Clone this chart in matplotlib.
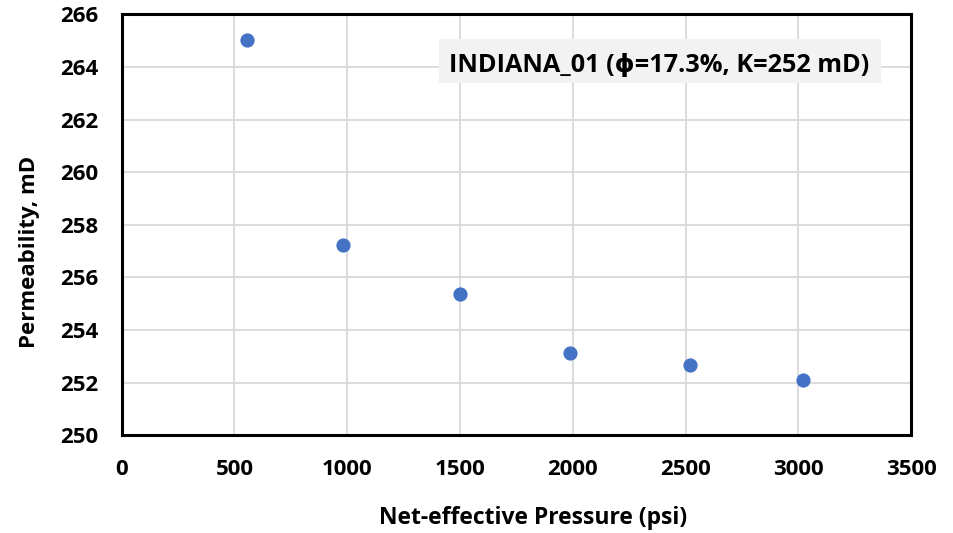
import matplotlib
matplotlib.use("Agg")
import matplotlib.pyplot as plt
from matplotlib.patches import Rectangle

# net-effective pressure (psi) vs measured permeability (mD)
pressure = [556, 981, 1498, 1987, 2520, 3021]
permeability = [265.03, 257.24, 255.38, 253.14, 252.67, 252.10]

x_ticks = [0, 500, 1000, 1500, 2000, 2500, 3000, 3500]
y_ticks = [250, 252, 254, 256, 258, 260, 262, 264, 266]

plt.rcParams['font.family'] = ['Open Sans', 'DejaVu Sans']
plt.rcParams['font.weight'] = 'bold'

fig = plt.figure(figsize=(9.54, 5.33), dpi=100)
ax = fig.add_axes([0.1276, 0.1833, 0.8274, 0.7895])

ax.scatter(pressure, permeability, s=105, color='#4472C4', zorder=3, linewidths=0)

ax.set_xlim(0, 3500)
ax.set_ylim(250, 266)
ax.set_xticks(x_ticks)
ax.set_yticks(y_ticks)
ax.grid(True, color='#d9d9d9', linewidth=1.3)
ax.set_axisbelow(True)
ax.tick_params(axis='x', length=0, labelsize=16, pad=17)
ax.tick_params(axis='y', length=0, labelsize=16, pad=17)
for lbl in ax.get_xticklabels() + ax.get_yticklabels():
    lbl.set_fontweight('bold')
for sp in ax.spines.values():
    sp.set_linewidth(2.2)
    sp.set_color('black')

ax.set_xlabel('Net-effective Pressure (psi)', fontsize=16.5, fontweight='bold')
ax.xaxis.set_label_coords(0.521, -0.167)
ax.set_ylabel('Permeability, mD', fontsize=16, fontweight='bold')
ax.yaxis.set_label_coords(-0.104, 0.436)

# sample label box
ax.add_patch(Rectangle((0.402, 0.837), 0.56, 0.105, transform=ax.transAxes,
                       facecolor='#f2f2f2', edgecolor='none', zorder=4))
ax.text(0.681, 0.864, 'INDIANA_01 (ϕ=17.3%, K=252 mD)', transform=ax.transAxes,
        ha='center', va='baseline', fontsize=18.2, fontweight='bold', zorder=5)

fig.savefig('out.png', dpi=100)
